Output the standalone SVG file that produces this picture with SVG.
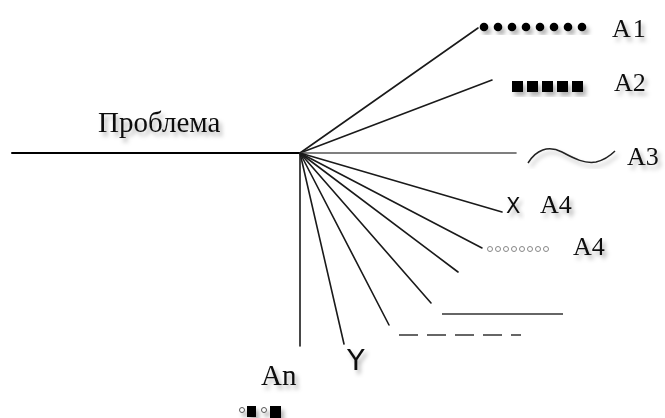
<svg xmlns="http://www.w3.org/2000/svg" width="665" height="418" viewBox="0 0 665 418">
<defs>
<filter id="sh" x="-20%" y="-20%" width="150%" height="160%">
<feDropShadow dx="3" dy="4" stdDeviation="2" flood-color="#000" flood-opacity="0.3"/>
</filter>
</defs>
<style>
.ln{stroke:#1a1a1a;stroke-width:1.6;fill:none;stroke-linecap:round}
.g{stroke:#666;stroke-width:2.2;fill:none}
.t{font-family:"Liberation Serif",serif;font-size:26px;fill:#111;filter:url(#sh)}
.s{font-family:"DejaVu Sans","Liberation Sans",sans-serif;font-size:22px;fill:#111;filter:url(#sh)}
.dot{fill:#000}
.oc{fill:#fff;stroke:#888;stroke-width:1}
</style>
<rect width="665" height="418" fill="#fff"/>
<g id="connectors">
<line class="ln" x1="12" y1="153" x2="300" y2="153" style="stroke:#000;stroke-width:2"/>
<line class="ln" x1="300" y1="153" x2="300" y2="346"/>
<line class="ln" x1="300" y1="153" x2="478" y2="28"/>
<line class="ln" x1="300" y1="153" x2="492" y2="80"/>
<line class="ln" x1="300" y1="153" x2="516" y2="153" style="stroke:#555"/>
<line class="ln" x1="300" y1="153" x2="502" y2="212"/>
<line class="ln" x1="300" y1="153" x2="482" y2="248"/>
<line class="ln" x1="300" y1="153" x2="458" y2="272"/>
<line class="ln" x1="300" y1="153" x2="431" y2="303"/>
<line class="ln" x1="300" y1="153" x2="389" y2="325"/>
<line class="ln" x1="300" y1="153" x2="344" y2="344"/>
</g>
<g id="problem"><text class="t" x="98" y="132" style="font-size:29px">Проблема</text></g>
<g id="a1" filter="url(#sh)">
<g class="dot">
<circle cx="484" cy="27" r="4.3"/><circle cx="498" cy="27" r="4.3"/><circle cx="512" cy="27" r="4.3"/><circle cx="526" cy="27" r="4.3"/><circle cx="540" cy="27" r="4.3"/><circle cx="554" cy="27" r="4.3"/><circle cx="568" cy="27" r="4.3"/><circle cx="582" cy="27" r="4.3"/>
</g>
</g>
<g id="a1label"><text class="t" x="612" y="37" letter-spacing="2">A1</text></g>
<g id="a2" filter="url(#sh)">
<rect x="512" y="81" width="11" height="11"/><rect x="527" y="81" width="11" height="11"/><rect x="542" y="81" width="11" height="11"/><rect x="557" y="81" width="11" height="11"/><rect x="572" y="81" width="11" height="11"/>
</g>
<g id="a2label"><text class="t" x="614" y="91">A2</text></g>
<g id="a3">
<path d="M528,163 C536,150 548,145 562,152 C575,159 585,164 596,162 C604,160 610,156 615,151" stroke="#222" stroke-width="1.5" fill="none" filter="url(#sh)"/>
<text class="t" x="627" y="165">A3</text>
</g>
<g id="a4x">
<text class="s" x="506" y="213" style="font-size:21px">X</text>
<text class="t" x="540" y="213">A4</text>
</g>
<g id="a4o">
<g class="oc">
<circle cx="490" cy="249" r="2.5"/><circle cx="498" cy="249" r="2.5"/><circle cx="506" cy="249" r="2.5"/><circle cx="514" cy="249" r="2.5"/><circle cx="522" cy="249" r="2.5"/><circle cx="530" cy="249" r="2.5"/><circle cx="538" cy="249" r="2.5"/><circle cx="546" cy="249" r="2.5"/>
</g>
<text class="t" x="573" y="255">A4</text>
</g>
<g id="solid"><line class="g" x1="442" y1="314" x2="563" y2="314"/></g>
<g id="dashed"><line class="g" x1="399" y1="335" x2="521" y2="335" stroke-dasharray="19,9"/></g>
<g id="y"><text class="s" x="347" y="370" style="font-size:29px">Y</text></g>
<g id="an">
<text class="t" x="261" y="385" style="font-size:29px">An</text>
<g filter="url(#sh)">
<circle cx="242" cy="410" r="2.5" fill="#fff" stroke="#555"/>
<rect x="247" y="406" width="9" height="11" fill="#000"/>
<circle cx="264" cy="410" r="2.5" fill="#fff" stroke="#555"/>
<rect x="270" y="406" width="11" height="12" fill="#000"/>
</g>
</g>
</svg>
